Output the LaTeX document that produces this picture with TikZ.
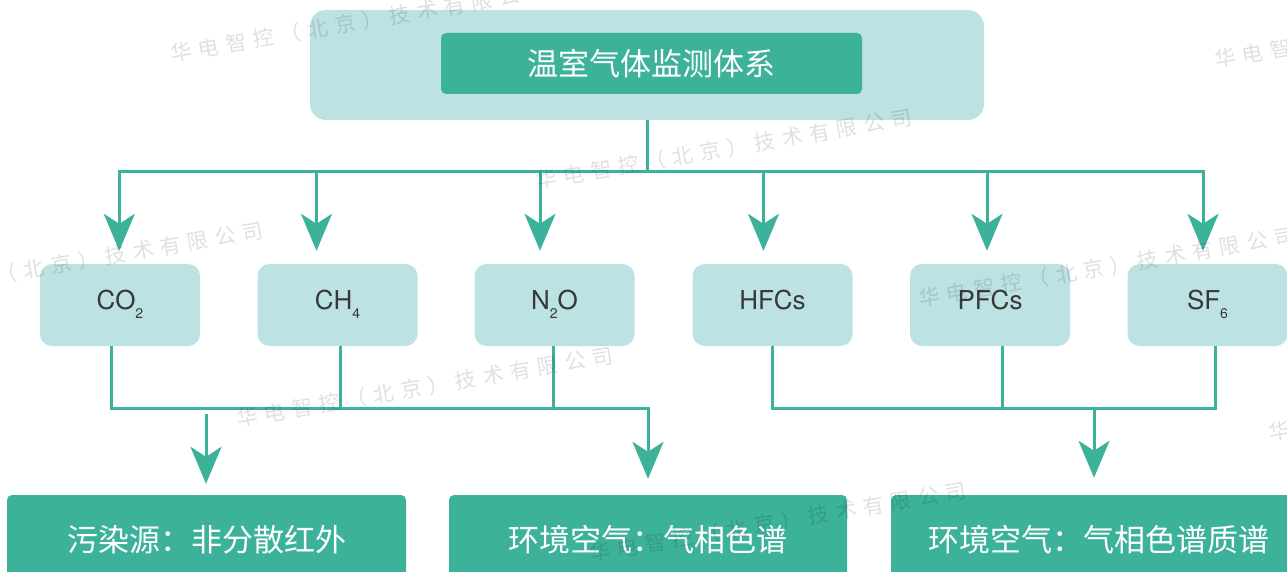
\documentclass[tikz,border=0pt]{standalone}
\usepackage{fontspec}
\setmainfont{TeX Gyre Heros}
\newfontfamily\cjk{Noto Sans CJK SC}
\newfontfamily\cjkwm[LetterSpace=32]{Noto Sans CJK SC}
\usetikzlibrary{arrows.meta}
\definecolor{lightteal}{HTML}{BDE2E3}
\definecolor{tealA}{HTML}{3CB29A}
\definecolor{txtgray}{HTML}{383838}
\newcommand{\gsub}[1]{\raisebox{-9pt}[0pt][0pt]{\fontsize{14}{14}\selectfont #1}}
\begin{document}
\begin{tikzpicture}[x=1pt,y=-1pt,
  conn/.style={draw=tealA, line width=3pt},
  arr/.style={conn, -{Stealth[length=37pt,width=31pt,inset=10pt]}},
  gasbox/.style={fill=lightteal, rounded corners=12pt, minimum width=160pt, minimum height=82pt, inner sep=0pt, text=txtgray, font=\fontsize{26}{26}\selectfont, text height=19pt, text depth=11pt},
  resbox/.style={fill=tealA, rounded corners=5pt, minimum height=90pt, inner sep=0pt, text=white, font=\cjk\fontsize{31}{31}\selectfont},
  wm/.style={rotate=9.7, text=black, opacity=0.12, font=\cjkwm\fontsize{21}{21}\selectfont, inner sep=0pt}
]
\useasboundingbox (0,0) rectangle (1287,572);
\clip (0,0) rectangle (1287,572);

% top
\node[fill=lightteal, rounded corners=16pt, minimum width=674pt, minimum height=110pt, inner sep=0pt] (sys) at (647,65) {};
\node[fill=tealA, rounded corners=5pt, minimum width=421pt, minimum height=61pt, inner sep=0pt, text=white, font=\cjk\fontsize{31}{31}\selectfont] (title) at (651.5,63.5) {温室气体监测体系};

% gases
\node[gasbox] (co2) at (120,305) {CO\gsub{2}};
\node[gasbox] (ch4) at (337.5,305) {CH\gsub{4}};
\node[gasbox] (n2o) at (554.5,305) {N\gsub{2}O};
\node[gasbox] (hfc) at (772.5,305) {HFCs};
\node[gasbox] (pfc) at (990,305) {PFCs};
\node[gasbox] (sf6) at (1207.5,305) {SF\gsub{6}};

% results
\node[resbox, minimum width=399pt] (src) at (206.5,540) {污染源：非分散红外};
\node[resbox, minimum width=398pt] (env1) at (648,540) {环境空气：气相色谱};
\node[resbox, minimum width=415pt] (env2) at (1098.5,540) {环境空气：气相色谱质谱};

% top connectors
\coordinate (bus) at (647,172);
\foreach \g/\dx in {co2/-0.7,ch4/-21,n2o/-14.5,hfc/-9,pfc/-3,sf6/-4.5}
  \draw[arr, shorten >=13pt] (sys.south) -- (bus) -| ([xshift=\dx pt]\g.north);

% left group
\coordinate (busL) at (648,408);
\draw[arr, shorten >=16pt] ([xshift=-9pt]co2.south) |- (busL) -- (busL |- env1.north);
\draw[conn] ([xshift=2.5pt]ch4.south) -- ([xshift=2.5pt]ch4.south |- busL);
\draw[conn] ([xshift=-1.5pt]n2o.south) -- ([xshift=-1.5pt]n2o.south |- busL);
\coordinate (srcStart) at (206,414);
\draw[arr, shorten >=11pt] (srcStart) -- (srcStart |- src.north);

% right group
\coordinate (busR) at (1094,408);
\draw[conn] ([xshift=-0.5pt]hfc.south) |- (busR) -| ([xshift=7.5pt]sf6.south);
\draw[conn] ([xshift=12pt]pfc.south) -- ([xshift=12pt]pfc.south |- busR);
\draw[arr, shorten >=17pt] (busR) -- (busR |- env2.north);

% watermarks
\foreach \n/\x/\y in {1/359/22, 2/724/149, 3/1107/267, 4/75/262, 5/425/387, 6/778/522, 7/1403/28, 8/1457/401}
  \node[wm] (wm\n) at (\x,\y) {华电智控（北京）技术有限公司};
\end{tikzpicture}
\end{document}
